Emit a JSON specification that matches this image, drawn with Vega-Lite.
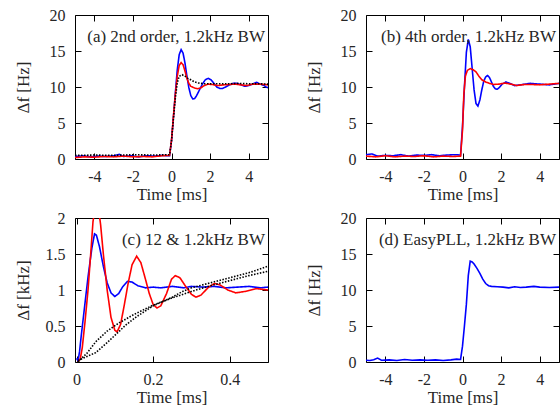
{
  "$schema": "https://vega.github.io/schema/vega-lite/v6.json",
  "padding": {"left": 13, "top": 6, "right": 0, "bottom": 0},
  "config": {
    "font": "Liberation Serif",
    "view": {"stroke": "black", "strokeWidth": 1},
    "axis": {"grid": false, "domain": false, "ticks": true, "zindex": 1, "labelFont": "Liberation Serif", "titleFont": "Liberation Serif", "labelFontSize": 16, "titleFontSize": 17, "titleFontWeight": "normal", "labelColor": "#262626", "titleColor": "#262626", "tickColor": "#000000", "tickWidth": 1, "tickSize": 6, "offset": -6, "labelExpr": "'' + datum.value"},
    "axisX": {"labelPadding": 9, "titlePadding": 2},
    "axisY": {"labelPadding": 10, "titlePadding": 17},
    "text": {"font": "Liberation Serif", "fontSize": 17, "color": "#262626"}
  },
  "datasets": {
    "a": [
      {"s":"A","t":-5,"v":0.35},{"s":"A","t":-4.6,"v":0.45},{"s":"A","t":-4.2,"v":0.3},{"s":"A","t":-3.8,"v":0.4},{"s":"A","t":-3.4,"v":0.35},{"s":"A","t":-3.0,"v":0.45},{"s":"A","t":-2.7,"v":0.65},{"s":"A","t":-2.5,"v":0.35},{"s":"A","t":-2.1,"v":0.45},{"s":"A","t":-1.7,"v":0.3},{"s":"A","t":-1.3,"v":0.45},{"s":"A","t":-0.9,"v":0.4},{"s":"A","t":-0.5,"v":0.5},{"s":"A","t":-0.1,"v":0.45},{"s":"A","t":0.0,"v":2.5},{"s":"A","t":0.1,"v":5.8},{"s":"A","t":0.2,"v":9.2},{"s":"A","t":0.3,"v":12.4},{"s":"A","t":0.4,"v":14.5},{"s":"A","t":0.5,"v":15.2},{"s":"A","t":0.6,"v":14.7},{"s":"A","t":0.7,"v":13.3},{"s":"A","t":0.8,"v":11.5},{"s":"A","t":0.9,"v":9.9},{"s":"A","t":1.0,"v":8.8},{"s":"A","t":1.1,"v":8.35},{"s":"A","t":1.2,"v":8.4},{"s":"A","t":1.3,"v":8.8},{"s":"A","t":1.45,"v":9.6},{"s":"A","t":1.6,"v":10.4},{"s":"A","t":1.75,"v":11.0},{"s":"A","t":1.9,"v":11.2},{"s":"A","t":2.05,"v":11.0},{"s":"A","t":2.2,"v":10.5},{"s":"A","t":2.35,"v":10.0},{"s":"A","t":2.5,"v":9.8},{"s":"A","t":2.65,"v":9.8},{"s":"A","t":2.8,"v":10.0},{"s":"A","t":3.0,"v":10.3},{"s":"A","t":3.2,"v":10.5},{"s":"A","t":3.4,"v":10.5},{"s":"A","t":3.6,"v":10.3},{"s":"A","t":3.8,"v":10.1},{"s":"A","t":4.0,"v":10.2},{"s":"A","t":4.2,"v":10.4},{"s":"A","t":4.4,"v":10.65},{"s":"A","t":4.6,"v":10.4},{"s":"A","t":4.8,"v":10.2},{"s":"A","t":4.9,"v":10.0},{"s":"A","t":5.0,"v":9.9},
      {"s":"B","t":-5,"v":0.2},{"s":"B","t":-4.5,"v":0.3},{"s":"B","t":-4,"v":0.25},{"s":"B","t":-3.5,"v":0.35},{"s":"B","t":-3,"v":0.3},{"s":"B","t":-2.5,"v":0.4},{"s":"B","t":-2,"v":0.3},{"s":"B","t":-1.5,"v":0.35},{"s":"B","t":-1,"v":0.3},{"s":"B","t":-0.5,"v":0.45},{"s":"B","t":-0.1,"v":0.5},{"s":"B","t":0.0,"v":2.6},{"s":"B","t":0.1,"v":5.9},{"s":"B","t":0.2,"v":9.0},{"s":"B","t":0.3,"v":11.5},{"s":"B","t":0.4,"v":13.0},{"s":"B","t":0.5,"v":13.4},{"s":"B","t":0.6,"v":13.1},{"s":"B","t":0.7,"v":12.2},{"s":"B","t":0.8,"v":11.2},{"s":"B","t":0.9,"v":10.5},{"s":"B","t":1.0,"v":10.1},{"s":"B","t":1.2,"v":9.85},{"s":"B","t":1.35,"v":9.75},{"s":"B","t":1.5,"v":9.85},{"s":"B","t":1.7,"v":10.2},{"s":"B","t":1.9,"v":10.4},{"s":"B","t":2.1,"v":10.35},{"s":"B","t":2.4,"v":10.2},{"s":"B","t":2.7,"v":10.3},{"s":"B","t":3.0,"v":10.35},{"s":"B","t":3.3,"v":10.4},{"s":"B","t":3.6,"v":10.3},{"s":"B","t":3.9,"v":10.2},{"s":"B","t":4.2,"v":10.4},{"s":"B","t":4.5,"v":10.4},{"s":"B","t":4.8,"v":10.35},{"s":"B","t":5.0,"v":10.3},
      {"s":"C","t":-5,"v":0.5},{"s":"C","t":-4,"v":0.55},{"s":"C","t":-3,"v":0.5},{"s":"C","t":-2,"v":0.6},{"s":"C","t":-1,"v":0.55},{"s":"C","t":-0.1,"v":0.6},{"s":"C","t":0.0,"v":2.5},{"s":"C","t":0.1,"v":5.6},{"s":"C","t":0.2,"v":8.5},{"s":"C","t":0.3,"v":10.6},{"s":"C","t":0.4,"v":11.5},{"s":"C","t":0.55,"v":11.7},{"s":"C","t":0.7,"v":11.5},{"s":"C","t":0.85,"v":11.2},{"s":"C","t":1.0,"v":11.0},{"s":"C","t":1.2,"v":10.7},{"s":"C","t":1.4,"v":10.55},{"s":"C","t":1.7,"v":10.45},{"s":"C","t":2.0,"v":10.45},{"s":"C","t":2.5,"v":10.45},{"s":"C","t":3.0,"v":10.45},{"s":"C","t":3.5,"v":10.5},{"s":"C","t":4.0,"v":10.45},{"s":"C","t":4.5,"v":10.45},{"s":"C","t":5.0,"v":10.4}
    ],
    "b": [
      {"s":"A","t":-5,"v":0.6},{"s":"A","t":-4.7,"v":0.7},{"s":"A","t":-4.4,"v":0.4},{"s":"A","t":-4,"v":0.5},{"s":"A","t":-3.6,"v":0.45},{"s":"A","t":-3.2,"v":0.6},{"s":"A","t":-2.8,"v":0.4},{"s":"A","t":-2.4,"v":0.55},{"s":"A","t":-2,"v":0.5},{"s":"A","t":-1.6,"v":0.6},{"s":"A","t":-1.2,"v":0.45},{"s":"A","t":-0.8,"v":0.55},{"s":"A","t":-0.4,"v":0.6},{"s":"A","t":-0.1,"v":0.55},{"s":"A","t":0.0,"v":4.5},{"s":"A","t":0.1,"v":10.0},{"s":"A","t":0.2,"v":14.8},{"s":"A","t":0.3,"v":16.6},{"s":"A","t":0.4,"v":15.6},{"s":"A","t":0.5,"v":12.6},{"s":"A","t":0.6,"v":9.6},{"s":"A","t":0.7,"v":7.7},{"s":"A","t":0.8,"v":7.35},{"s":"A","t":0.9,"v":8.2},{"s":"A","t":1.0,"v":9.6},{"s":"A","t":1.1,"v":10.8},{"s":"A","t":1.2,"v":11.4},{"s":"A","t":1.3,"v":11.6},{"s":"A","t":1.4,"v":11.3},{"s":"A","t":1.5,"v":10.7},{"s":"A","t":1.6,"v":10.1},{"s":"A","t":1.7,"v":9.75},{"s":"A","t":1.8,"v":9.7},{"s":"A","t":1.9,"v":9.9},{"s":"A","t":2.05,"v":10.4},{"s":"A","t":2.25,"v":10.7},{"s":"A","t":2.45,"v":10.5},{"s":"A","t":2.7,"v":10.2},{"s":"A","t":3.0,"v":10.3},{"s":"A","t":3.5,"v":10.5},{"s":"A","t":4.0,"v":10.4},{"s":"A","t":4.5,"v":10.3},{"s":"A","t":5.0,"v":10.5},
      {"s":"B","t":-5,"v":0.4},{"s":"B","t":-4.5,"v":0.3},{"s":"B","t":-4,"v":0.45},{"s":"B","t":-3.5,"v":0.3},{"s":"B","t":-3,"v":0.4},{"s":"B","t":-2.5,"v":0.35},{"s":"B","t":-2,"v":0.45},{"s":"B","t":-1.5,"v":0.3},{"s":"B","t":-1,"v":0.4},{"s":"B","t":-0.5,"v":0.35},{"s":"B","t":-0.1,"v":0.4},{"s":"B","t":0.0,"v":4.0},{"s":"B","t":0.07,"v":9.0},{"s":"B","t":0.15,"v":11.5},{"s":"B","t":0.25,"v":12.3},{"s":"B","t":0.4,"v":12.55},{"s":"B","t":0.55,"v":12.4},{"s":"B","t":0.7,"v":12.1},{"s":"B","t":0.85,"v":11.5},{"s":"B","t":1.0,"v":11.0},{"s":"B","t":1.2,"v":10.7},{"s":"B","t":1.4,"v":10.5},{"s":"B","t":1.6,"v":10.35},{"s":"B","t":1.9,"v":10.4},{"s":"B","t":2.2,"v":10.55},{"s":"B","t":2.5,"v":10.4},{"s":"B","t":2.8,"v":10.2},{"s":"B","t":3.2,"v":10.35},{"s":"B","t":3.6,"v":10.35},{"s":"B","t":4.0,"v":10.3},{"s":"B","t":4.5,"v":10.4},{"s":"B","t":5.0,"v":10.5}
    ],
    "c": [
      {"s":"A","t":0,"v":0.05},{"s":"A","t":0.004,"v":0.02},{"s":"A","t":0.008,"v":0.15},{"s":"A","t":0.012,"v":0.35},{"s":"A","t":0.02,"v":0.72},{"s":"A","t":0.03,"v":1.18},{"s":"A","t":0.04,"v":1.58},{"s":"A","t":0.047,"v":1.78},{"s":"A","t":0.052,"v":1.76},{"s":"A","t":0.06,"v":1.6},{"s":"A","t":0.07,"v":1.33},{"s":"A","t":0.08,"v":1.1},{"s":"A","t":0.09,"v":0.96},{"s":"A","t":0.1,"v":0.91},{"s":"A","t":0.11,"v":0.95},{"s":"A","t":0.12,"v":1.04},{"s":"A","t":0.133,"v":1.12},{"s":"A","t":0.145,"v":1.11},{"s":"A","t":0.16,"v":1.06},{"s":"A","t":0.18,"v":1.03},{"s":"A","t":0.2,"v":1.04},{"s":"A","t":0.22,"v":1.03},{"s":"A","t":0.25,"v":1.05},{"s":"A","t":0.28,"v":1.03},{"s":"A","t":0.3,"v":1.05},{"s":"A","t":0.33,"v":1.04},{"s":"A","t":0.36,"v":1.05},{"s":"A","t":0.39,"v":1.03},{"s":"A","t":0.42,"v":1.04},{"s":"A","t":0.45,"v":1.05},{"s":"A","t":0.48,"v":1.03},{"s":"A","t":0.5,"v":1.04},
      {"s":"B","t":0.004,"v":0.0},{"s":"B","t":0.01,"v":0.05},{"s":"B","t":0.015,"v":0.2},{"s":"B","t":0.022,"v":0.55},{"s":"B","t":0.03,"v":1.0},{"s":"B","t":0.037,"v":1.5},{"s":"B","t":0.043,"v":1.95},{"s":"B","t":0.05,"v":2.2},{"s":"B","t":0.057,"v":2.15},{"s":"B","t":0.063,"v":1.9},{"s":"B","t":0.07,"v":1.5},{"s":"B","t":0.08,"v":1.0},{"s":"B","t":0.09,"v":0.62},{"s":"B","t":0.1,"v":0.44},{"s":"B","t":0.106,"v":0.42},{"s":"B","t":0.115,"v":0.52},{"s":"B","t":0.125,"v":0.8},{"s":"B","t":0.135,"v":1.1},{"s":"B","t":0.145,"v":1.35},{"s":"B","t":0.157,"v":1.47},{"s":"B","t":0.168,"v":1.38},{"s":"B","t":0.18,"v":1.15},{"s":"B","t":0.19,"v":0.95},{"s":"B","t":0.2,"v":0.8},{"s":"B","t":0.21,"v":0.75},{"s":"B","t":0.22,"v":0.78},{"s":"B","t":0.235,"v":0.95},{"s":"B","t":0.248,"v":1.15},{"s":"B","t":0.258,"v":1.2},{"s":"B","t":0.27,"v":1.17},{"s":"B","t":0.285,"v":1.05},{"s":"B","t":0.3,"v":0.94},{"s":"B","t":0.312,"v":0.9},{"s":"B","t":0.325,"v":0.93},{"s":"B","t":0.345,"v":1.04},{"s":"B","t":0.36,"v":1.09},{"s":"B","t":0.375,"v":1.07},{"s":"B","t":0.395,"v":1.0},{"s":"B","t":0.416,"v":0.96},{"s":"B","t":0.44,"v":0.98},{"s":"B","t":0.47,"v":1.02},{"s":"B","t":0.5,"v":1.0},
      {"s":"C","t":0.004,"v":0.0},{"s":"C","t":0.015,"v":0.06},{"s":"C","t":0.027,"v":0.12},{"s":"C","t":0.05,"v":0.28},{"s":"C","t":0.08,"v":0.43},{"s":"C","t":0.11,"v":0.54},{"s":"C","t":0.15,"v":0.66},{"s":"C","t":0.2,"v":0.79},{"s":"C","t":0.25,"v":0.89},{"s":"C","t":0.3,"v":0.98},{"s":"C","t":0.35,"v":1.06},{"s":"C","t":0.4,"v":1.13},{"s":"C","t":0.45,"v":1.2},{"s":"C","t":0.5,"v":1.26},
      {"s":"D","t":0.004,"v":0.02},{"s":"D","t":0.02,"v":0.06},{"s":"D","t":0.05,"v":0.13},{"s":"D","t":0.08,"v":0.27},{"s":"D","t":0.1,"v":0.37},{"s":"D","t":0.13,"v":0.52},{"s":"D","t":0.157,"v":0.63},{"s":"D","t":0.2,"v":0.78},{"s":"D","t":0.25,"v":0.9},{"s":"D","t":0.277,"v":0.98},{"s":"D","t":0.3,"v":1.03},{"s":"D","t":0.35,"v":1.1},{"s":"D","t":0.4,"v":1.17},{"s":"D","t":0.45,"v":1.24},{"s":"D","t":0.5,"v":1.33}
    ],
    "d": [
      {"s":"A","t":-5,"v":0.25},{"s":"A","t":-4.8,"v":0.2},{"s":"A","t":-4.6,"v":0.3},{"s":"A","t":-4.4,"v":0.55},{"s":"A","t":-4.2,"v":0.25},{"s":"A","t":-3.8,"v":0.3},{"s":"A","t":-3.4,"v":0.2},{"s":"A","t":-3.0,"v":0.35},{"s":"A","t":-2.6,"v":0.25},{"s":"A","t":-2.2,"v":0.3},{"s":"A","t":-1.8,"v":0.25},{"s":"A","t":-1.4,"v":0.3},{"s":"A","t":-1.0,"v":0.2},{"s":"A","t":-0.6,"v":0.3},{"s":"A","t":-0.3,"v":0.4},{"s":"A","t":-0.1,"v":0.35},{"s":"A","t":0.0,"v":2.2},{"s":"A","t":0.1,"v":5.0},{"s":"A","t":0.2,"v":8.0},{"s":"A","t":0.3,"v":12.0},{"s":"A","t":0.4,"v":14.0},{"s":"A","t":0.5,"v":13.9},{"s":"A","t":0.6,"v":13.6},{"s":"A","t":0.75,"v":13.0},{"s":"A","t":0.9,"v":12.3},{"s":"A","t":1.05,"v":11.5},{"s":"A","t":1.2,"v":10.9},{"s":"A","t":1.35,"v":10.6},{"s":"A","t":1.5,"v":10.5},{"s":"A","t":1.8,"v":10.45},{"s":"A","t":2.1,"v":10.4},{"s":"A","t":2.4,"v":10.3},{"s":"A","t":2.7,"v":10.45},{"s":"A","t":3.0,"v":10.35},{"s":"A","t":3.3,"v":10.4},{"s":"A","t":3.7,"v":10.5},{"s":"A","t":4.0,"v":10.4},{"s":"A","t":4.5,"v":10.35},{"s":"A","t":5.0,"v":10.4}
    ]
  },
  "columns": 2,
  "spacing": {"row": 0, "column": 35},
  "concat": [
      {
        "width": 193, "height": 144,
        "data": {"name": "a"},
        "layer": [
          {"mark": {"type": "line", "clip": true},
           "encoding": {
             "x": {"field": "t", "type": "quantitative", "scale": {"domain": [-5, 5], "nice": false, "zero": false}, "axis": {"values": [-4, -2, 0, 2, 4], "title": "Time [ms]"}},
             "y": {"field": "v", "type": "quantitative", "scale": {"domain": [0, 20], "nice": false}, "axis": {"values": [0, 5, 10, 15, 20], "title": "Δf [Hz]"}},
             "color": {"field": "s", "type": "nominal", "scale": {"domain": ["C", "B", "A"], "range": ["#000000", "#ff0000", "#0000ff"]}, "legend": null},
             "strokeDash": {"field": "s", "type": "nominal", "scale": {"domain": ["C", "B", "A"], "range": [[1.5, 1.5], [1, 0], [1, 0]]}, "legend": null},
             "strokeWidth": {"field": "s", "type": "nominal", "scale": {"domain": ["C", "B", "A"], "range": [1.6, 1.6, 1.6]}, "legend": null}
           }},
          {"mark": {"type": "line", "opacity": 0},
           "encoding": {
             "x": {"field": "t", "type": "quantitative", "axis": {"orient": "top", "labels": false, "title": null, "values": [-4, -2, 0, 2, 4], "labelPadding": 0, "maxExtent": 0, "minExtent": 0}},
             "y": {"field": "v", "type": "quantitative", "axis": {"orient": "right", "labels": false, "title": null, "values": [0, 5, 10, 15, 20], "labelPadding": 0, "maxExtent": 0, "minExtent": 0}}
           }},
          {"data": {"values": [{"label": "(a) 2nd order, 1.2kHz BW"}]},
           "mark": {"type": "text", "align": "right", "baseline": "alphabetic", "dx": -3, "dy": 27},
           "encoding": {"x": {"datum": 5, "type": "quantitative", "axis": null}, "y": {"datum": 20, "type": "quantitative", "axis": null}, "text": {"field": "label"}}}
        ],
        "resolve": {"axis": {"x": "independent", "y": "independent"}}
      },
      {
        "width": 193, "height": 144,
        "data": {"name": "b"},
        "layer": [
          {"mark": {"type": "line", "strokeWidth": 1.6, "clip": true},
           "encoding": {
             "x": {"field": "t", "type": "quantitative", "scale": {"domain": [-5, 5], "nice": false, "zero": false}, "axis": {"values": [-4, -2, 0, 2, 4], "title": "Time [ms]"}},
             "y": {"field": "v", "type": "quantitative", "scale": {"domain": [0, 20], "nice": false}, "axis": {"values": [0, 5, 10, 15, 20], "title": "Δf [Hz]"}},
             "color": {"field": "s", "type": "nominal", "scale": {"domain": ["A", "B"], "range": ["#0000ff", "#ff0000"]}, "legend": null},
             "strokeDash": {"field": "s", "type": "nominal", "scale": {"domain": ["A", "B"], "range": [[1, 0], [4, 2]]}, "legend": null}
           }},
          {"mark": {"type": "line", "opacity": 0},
           "encoding": {
             "x": {"field": "t", "type": "quantitative", "axis": {"orient": "top", "labels": false, "title": null, "values": [-4, -2, 0, 2, 4], "labelPadding": 0, "maxExtent": 0, "minExtent": 0}},
             "y": {"field": "v", "type": "quantitative", "axis": {"orient": "right", "labels": false, "title": null, "values": [0, 5, 10, 15, 20], "labelPadding": 0, "maxExtent": 0, "minExtent": 0}}
           }},
          {"data": {"values": [{"label": "(b) 4th order, 1.2kHz BW"}]},
           "mark": {"type": "text", "align": "right", "baseline": "alphabetic", "dx": -3, "dy": 27},
           "encoding": {"x": {"datum": 5, "type": "quantitative", "axis": null}, "y": {"datum": 20, "type": "quantitative", "axis": null}, "text": {"field": "label"}}}
        ],
        "resolve": {"axis": {"x": "independent", "y": "independent"}}
      },
      {
        "width": 193, "height": 144,
        "data": {"name": "c"},
        "layer": [
          {"mark": {"type": "line", "clip": true},
           "encoding": {
             "x": {"field": "t", "type": "quantitative", "scale": {"domain": [-0.004, 0.5], "nice": false, "zero": false}, "axis": {"values": [0, 0.2, 0.4], "title": "Time [ms]"}},
             "y": {"field": "v", "type": "quantitative", "scale": {"domain": [0, 2], "nice": false}, "axis": {"values": [0, 0.5, 1, 1.5, 2], "title": "Δf [kHz]", "titlePadding": 13}},
             "color": {"field": "s", "type": "nominal", "scale": {"domain": ["D", "C", "B", "A"], "range": ["#55ee55", "#000000", "#ff0000", "#0000ff"]}, "legend": null},
             "strokeDash": {"field": "s", "type": "nominal", "scale": {"domain": ["D", "C", "B", "A"], "range": [[1, 2], [1, 2.5], [4, 2], [1, 0]]}, "legend": null},
             "strokeWidth": {"field": "s", "type": "nominal", "scale": {"domain": ["D", "C", "B", "A"], "range": [1, 1.1, 1.6, 2]}, "legend": null}
           }},
          {"mark": {"type": "line", "opacity": 0},
           "encoding": {
             "x": {"field": "t", "type": "quantitative", "axis": {"orient": "top", "labels": false, "title": null, "values": [0, 0.2, 0.4], "labelPadding": 0, "maxExtent": 0, "minExtent": 0}},
             "y": {"field": "v", "type": "quantitative", "axis": {"orient": "right", "labels": false, "title": null, "values": [0, 0.5, 1, 1.5, 2], "labelPadding": 0, "maxExtent": 0, "minExtent": 0}}
           }},
          {"data": {"values": [{"label": "(c) 12 & 1.2kHz BW"}]},
           "mark": {"type": "text", "align": "right", "baseline": "alphabetic", "dx": -3, "dy": 27},
           "encoding": {"x": {"datum": 0.5, "type": "quantitative", "axis": null}, "y": {"datum": 2, "type": "quantitative", "axis": null}, "text": {"field": "label"}}}
        ],
        "resolve": {"axis": {"x": "independent", "y": "independent"}}
      },
      {
        "width": 193, "height": 144,
        "data": {"name": "d"},
        "layer": [
          {"mark": {"type": "line", "strokeWidth": 1.6, "clip": true, "color": "#0000ff"},
           "encoding": {
             "x": {"field": "t", "type": "quantitative", "scale": {"domain": [-5, 5], "nice": false, "zero": false}, "axis": {"values": [-4, -2, 0, 2, 4], "title": "Time [ms]"}},
             "y": {"field": "v", "type": "quantitative", "scale": {"domain": [0, 20], "nice": false}, "axis": {"values": [0, 5, 10, 15, 20], "title": "Δf [Hz]"}}
           }},
          {"mark": {"type": "line", "opacity": 0},
           "encoding": {
             "x": {"field": "t", "type": "quantitative", "axis": {"orient": "top", "labels": false, "title": null, "values": [-4, -2, 0, 2, 4], "labelPadding": 0, "maxExtent": 0, "minExtent": 0}},
             "y": {"field": "v", "type": "quantitative", "axis": {"orient": "right", "labels": false, "title": null, "values": [0, 5, 10, 15, 20], "labelPadding": 0, "maxExtent": 0, "minExtent": 0}}
           }},
          {"data": {"values": [{"label": "(d) EasyPLL, 1.2kHz BW"}]},
           "mark": {"type": "text", "align": "right", "baseline": "alphabetic", "dx": -3, "dy": 27},
           "encoding": {"x": {"datum": 5, "type": "quantitative", "axis": null}, "y": {"datum": 20, "type": "quantitative", "axis": null}, "text": {"field": "label"}}}
        ],
        "resolve": {"axis": {"x": "independent", "y": "independent"}}
      }
  ]
}
